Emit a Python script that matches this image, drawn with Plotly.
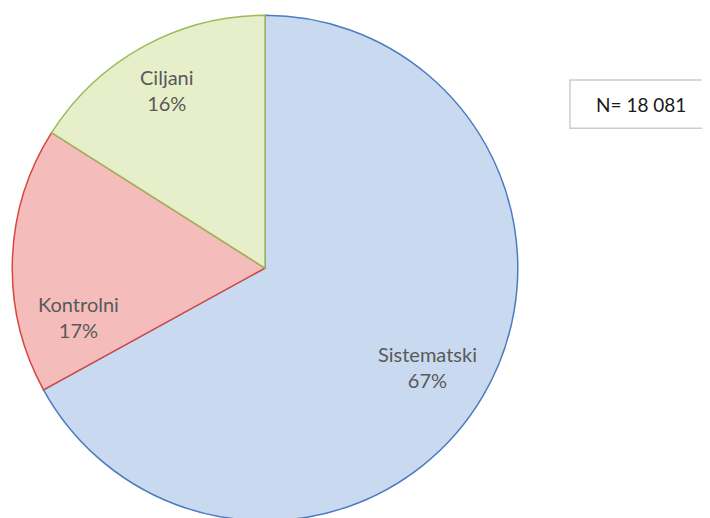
import plotly.graph_objects as go

# share of samples by type, total N = 18 081
labels = ["Sistematski", "Kontrolni", "Ciljani"]
shares = [67, 17, 16]
total_n = "18 081"

fill_colors = ["#c9d9ef", "#f4bdbc", "#e7efca"]
line_colors = ["#4a7cc0", "#d9443c", "#9bbb59"]
# label anchor spots (paper coords), placed like the original chart
label_pos = [(0.5915, 0.3069), (0.0986, 0.4035), (0.2239, 0.8417)]

FONT = "Lato, Carlito, sans-serif"

fig = go.Figure(go.Pie(
    labels=labels,
    values=shares,
    sort=False,
    direction="clockwise",
    rotation=0,
    marker=dict(colors=fill_colors, line=dict(color=line_colors, width=1.5)),
    textinfo="none",
    domain=dict(x=[0.006, 0.718], y=[0.01, 0.986]),
    showlegend=False,
    hoverinfo="label+percent",
))

total = sum(shares)
for lab, val, (px, py) in zip(labels, shares, label_pos):
    fig.add_annotation(xref="paper", yref="paper", x=px, y=py,
                       xanchor="center", yanchor="middle",
                       text=f"{lab}<br>{round(100 * val / total)}%",
                       showarrow=False, align="center",
                       font=dict(family=FONT, size=20, color="#595959"))

# N box at the right
fig.add_shape(type="rect", xref="paper", yref="paper", layer="below",
              x0=0.7915, x1=1.0, y0=0.768, y1=0.861,
              line=dict(color="#d0cccc", width=1.5), fillcolor="white")
fig.add_annotation(xref="paper", yref="paper", x=0.825, y=0.8145,
                   xanchor="left", yanchor="middle",
                   text="N= " + total_n, showarrow=False,
                   font=dict(family=FONT, size=19, color="#1a1a1a"))

fig.update_layout(
    width=710, height=518,
    margin=dict(l=0, r=0, t=0, b=0),
    paper_bgcolor="white",
    plot_bgcolor="white",
)

fig.write_html("out.html")
